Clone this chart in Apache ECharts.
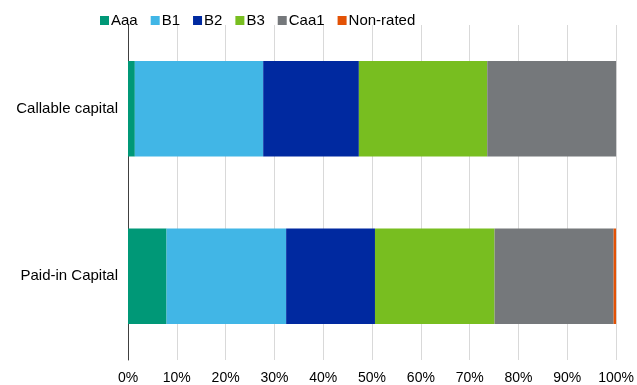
<!DOCTYPE html>
<html>
<head>
<meta charset="utf-8">
<script src="https://cdn.jsdelivr.net/npm/echarts@6/dist/echarts.min.js"></script>
<style>
  html, body { margin: 0; padding: 0; background: #fff; }
  #chart { width: 637px; height: 385px; }
</style>
</head>
<body>
<div id="chart"></div>
<script>
// categories, bottom to top (ECharts draws first category at the bottom)
var categories = ['Paid-in Capital', 'Callable capital'];
var ratings = ['Aaa', 'B1', 'B2', 'B3', 'Caa1', 'Non-rated'];
var colors = ['#009877', '#41b6e6', '#0029a0', '#78be20', '#75787b', '#e35205'];

// share of each rating, in %
var aaa      = [7.9, 1.4];
var b1       = [24.5, 26.3];
var b2       = [18.2, 19.6];
var b3       = [24.5, 26.3];
var caa1     = [24.4, 26.4];
var nonRated = [0.5, 0];

var values = [aaa, b1, b2, b3, caa1, nonRated];

var chart = echarts.init(document.getElementById('chart'));

var series = ratings.map(function (name, i) {
    return {
        name: name,
        type: 'bar',
        stack: 'total',
        barWidth: '57%',
        itemStyle: { color: colors[i] },
        data: values[i]
    };
});

chart.setOption({
    animation: false,
    textStyle: { fontFamily: 'Liberation Sans, Arial, sans-serif' },
    color: colors,
    legend: {
        data: ratings,
        left: 95,
        top: 8,
        itemWidth: 9,
        itemHeight: 9,
        itemGap: 13,
        icon: 'rect',
        textStyle: { fontSize: 15, color: '#000', padding: [0, 0, 0, -3] }
    },
    grid: { left: 128, right: 18, top: 25, bottom: 24, containLabel: false },
    xAxis: {
        type: 'value',
        min: 0,
        max: 100,
        interval: 10,
        axisLine: { show: false },
        axisTick: { show: false },
        splitLine: { lineStyle: { color: '#d9d9d9', width: 1 } },
        axisLabel: { formatter: '{value}%', fontSize: 14, color: '#000', margin: 11 }
    },
    yAxis: {
        type: 'category',
        data: categories,
        axisLine: { lineStyle: { color: '#404040', width: 1 } },
        axisTick: { show: false },
        axisLabel: { fontSize: 15, color: '#000', margin: 10 }
    },
    series: series
});
</script>
</body>
</html>
